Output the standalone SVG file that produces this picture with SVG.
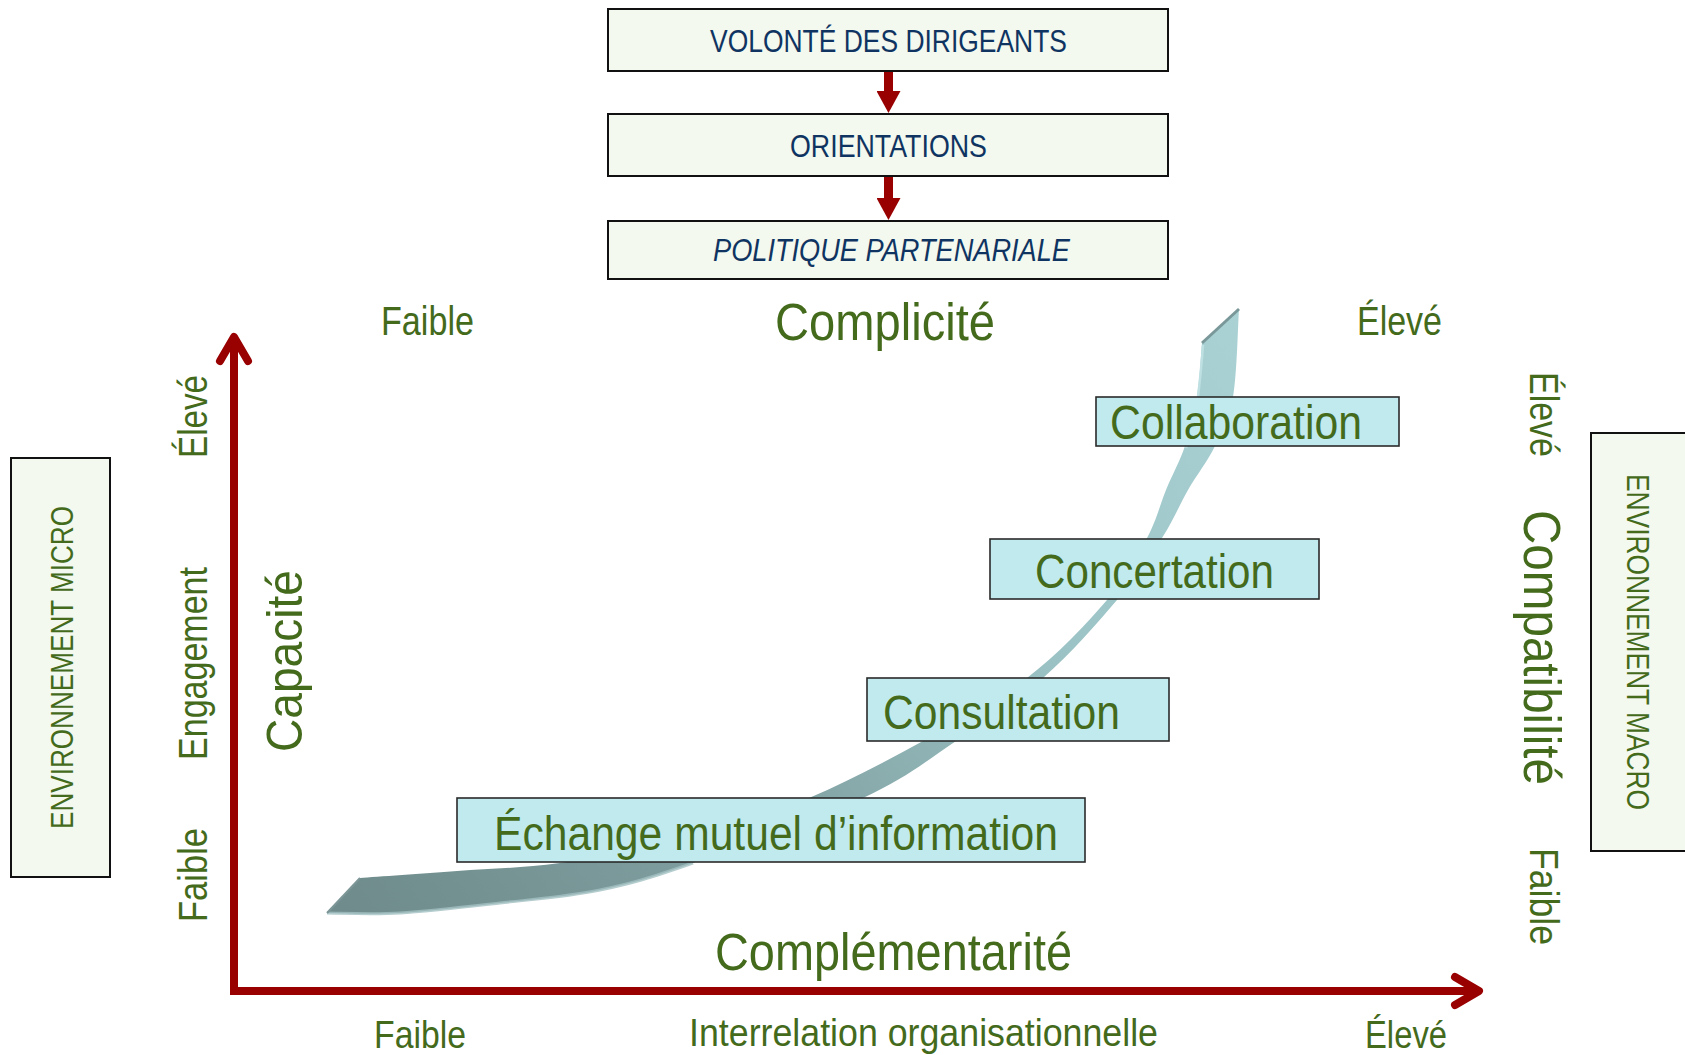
<svg xmlns="http://www.w3.org/2000/svg" width="1685" height="1055" viewBox="0 0 1685 1055">
<style>
.bx{fill:#F3F9EE;stroke:#111;stroke-width:2}
.cy{fill:#C0EAEE;stroke:#2A2A2A;stroke-width:1.6}
.nv{font-family:"Liberation Sans Narrow","Liberation Sans",Arial,sans-serif;fill:#0F3462;font-size:31px}
.gr{font-family:"Liberation Sans Narrow","Liberation Sans",Arial,sans-serif;fill:#446A1C}
.s40{font-size:40px}
.s48{font-size:48px}
.s51{font-size:51px}
.s32{font-size:32px}
.ax{stroke:#990000;stroke-width:8;fill:none}
</style>
<defs>
<linearGradient id="rib" gradientUnits="userSpaceOnUse" x1="330" y1="900" x2="1240" y2="310">
<stop offset="0" stop-color="#6F8B8B"/>
<stop offset="0.4" stop-color="#83A3A4"/>
<stop offset="0.7" stop-color="#9CC4C6"/>
<stop offset="1" stop-color="#AAD2D4"/>
</linearGradient>
<marker id="tri" markerUnits="userSpaceOnUse" viewBox="0 0 22 24" markerWidth="22" markerHeight="24" refX="9" refY="12" orient="auto">
<path d="M0,0 L22,12 L0,24 Z" fill="#990000"/>
</marker>
<marker id="chev" markerUnits="userSpaceOnUse" viewBox="-6 -22 44 44" markerWidth="44" markerHeight="44" refX="29" refY="0" orient="auto">
<polyline points="5,-14 29,0 5,14" fill="none" stroke="#990000" stroke-width="8" stroke-linecap="round" stroke-linejoin="round"/>
</marker>
</defs>

<g id="ribbon">
<path fill="url(#rib)" d="M1239,309 C1238,323.7 1237,374.2 1233,397 C1229,419.8 1222.5,430.5 1215,446 C1207.5,461.5 1196.8,474.7 1188,490 C1179.2,505.3 1173.8,519.7 1162,538 C1150.2,556.3 1136.8,576.7 1117,600 C1097.2,623.3 1069.8,654.5 1043,678 C1016.2,701.5 986,721 956,741 C926,761 906.8,777.7 863,798 C819.2,818.3 736.8,847.7 693,863 C649.2,878.3 632.2,883.3 600,890 C567.8,896.7 533.3,899.2 500,903 C466.7,906.8 428.8,911.3 400,913 C371.2,914.7 339.2,913 327,913 L360,878 C376.2,876.8 423.7,873.5 457,871 C490.3,868.5 521.2,868.2 560,863 C598.8,857.8 648.5,850.8 690,840 C731.5,829.2 770.2,814.5 809,798 C847.8,781.5 886.7,761 923,741 C959.3,721 996.3,701.5 1027,678 C1057.7,654.5 1087,623.3 1107,600 C1127,576.7 1137.2,556.3 1147,538 C1156.8,519.7 1159.7,505.3 1166,490 C1172.3,474.7 1179.8,461.5 1185,446 C1190.2,430.5 1194.2,414.2 1197,397 C1199.8,379.8 1201.2,352 1202,343 Z"/>
<path fill="none" stroke="#A3C0C2" stroke-width="3" stroke-opacity="0.8" d="M693,863 C649.2,878.3 632.2,883.3 600,890 C567.8,896.7 533.3,899.2 500,903 C466.7,906.8 428.8,911.3 400,913 C371.2,914.7 339.2,913 327,913"/>
<path fill="none" stroke="#BFE0E2" stroke-width="2.5" d="M1203,345 C1202,360 1200,380 1198,397 C1195,420 1191,435 1186,448"/>
<path fill="none" stroke="#7A9899" stroke-width="3" d="M1202,343 L1239,309"/>
<path fill="none" stroke="#7C9596" stroke-width="2" d="M327,913 L360,878"/>
</g>

<g id="connectors">
<line x1="888.5" y1="71" x2="888.5" y2="100" stroke="#990000" stroke-width="9" marker-end="url(#tri)"/>
<line x1="888.5" y1="176" x2="888.5" y2="207" stroke="#990000" stroke-width="9" marker-end="url(#tri)"/>
</g>

<g id="axes">
<line class="ax" x1="234" y1="994" x2="234" y2="337" marker-end="url(#chev)"/>
<line class="ax" x1="230" y1="991" x2="1479" y2="991" marker-end="url(#chev)"/>
</g>

<g id="node-volonte">
<rect class="bx" x="608" y="9" width="560" height="62"/>
<text class="nv" x="710" y="52" textLength="357" lengthAdjust="spacingAndGlyphs">VOLONTÉ DES DIRIGEANTS</text>
</g>
<g id="node-orientations">
<rect class="bx" x="608" y="114" width="560" height="62"/>
<text class="nv" x="790" y="157" textLength="197" lengthAdjust="spacingAndGlyphs">ORIENTATIONS</text>
</g>
<g id="node-politique">
<rect class="bx" x="608" y="221" width="560" height="58"/>
<text class="nv" x="713" y="261" font-style="italic" textLength="357" lengthAdjust="spacingAndGlyphs">POLITIQUE PARTENARIALE</text>
</g>

<g id="node-env-micro">
<rect class="bx" x="11" y="458" width="99" height="419"/>
<text class="gr s32" transform="translate(73,829) rotate(-90)" textLength="323" lengthAdjust="spacingAndGlyphs">ENVIRONNEMENT MICRO</text>
</g>
<g id="node-env-macro">
<rect class="bx" x="1591" y="433" width="110" height="418"/>
<text class="gr s32" transform="translate(1627,474) rotate(90)" textLength="336" lengthAdjust="spacingAndGlyphs">ENVIRONNEMENT MACRO</text>
</g>

<g id="node-collaboration">
<rect class="cy" x="1096" y="397" width="303" height="49"/>
<text class="gr s48" x="1110" y="439" textLength="252" lengthAdjust="spacingAndGlyphs">Collaboration</text>
</g>
<g id="node-concertation">
<rect class="cy" x="990" y="539" width="329" height="60"/>
<text class="gr s48" x="1035" y="588" textLength="239" lengthAdjust="spacingAndGlyphs">Concertation</text>
</g>
<g id="node-consultation">
<rect class="cy" x="867" y="678" width="302" height="63"/>
<text class="gr s48" x="883" y="729" textLength="237" lengthAdjust="spacingAndGlyphs">Consultation</text>
</g>
<g id="node-echange">
<rect class="cy" x="457" y="798" width="628" height="64"/>
<text class="gr s48" x="494" y="850" textLength="564" lengthAdjust="spacingAndGlyphs">Échange mutuel d’information</text>
</g>

<g id="labels">
<text class="gr s40" x="381" y="335" textLength="93" lengthAdjust="spacingAndGlyphs">Faible</text>
<text class="gr s51" x="775" y="340" textLength="220" lengthAdjust="spacingAndGlyphs">Complicité</text>
<text class="gr s40" x="1357" y="335" textLength="85" lengthAdjust="spacingAndGlyphs">Élevé</text>

<text class="gr s40" transform="translate(207,458) rotate(-90)" textLength="83" lengthAdjust="spacingAndGlyphs">Élevé</text>
<text class="gr s40" transform="translate(207,760) rotate(-90)" textLength="193" lengthAdjust="spacingAndGlyphs">Engagement</text>
<text class="gr s40" transform="translate(207,922) rotate(-90)" textLength="94" lengthAdjust="spacingAndGlyphs">Faible</text>
<text class="gr" font-size="50" transform="translate(302,752) rotate(-90)" textLength="182" lengthAdjust="spacingAndGlyphs">Capacité</text>

<text class="gr s40" transform="translate(1530,372) rotate(90)" textLength="85" lengthAdjust="spacingAndGlyphs">Élevé</text>
<text class="gr s51" transform="translate(1524,510) rotate(90)" textLength="275" lengthAdjust="spacingAndGlyphs">Compatibilité</text>
<text class="gr s40" transform="translate(1530,848) rotate(90)" textLength="97" lengthAdjust="spacingAndGlyphs">Faible</text>

<text class="gr s51" x="715" y="970" textLength="357" lengthAdjust="spacingAndGlyphs">Complémentarité</text>
<text class="gr" font-size="38" x="374" y="1048" textLength="92" lengthAdjust="spacingAndGlyphs">Faible</text>
<text class="gr" font-size="38" x="689" y="1046" textLength="469" lengthAdjust="spacingAndGlyphs">Interrelation organisationnelle</text>
<text class="gr" font-size="38" x="1365" y="1048" textLength="82" lengthAdjust="spacingAndGlyphs">Élevé</text>
</g>
</svg>
